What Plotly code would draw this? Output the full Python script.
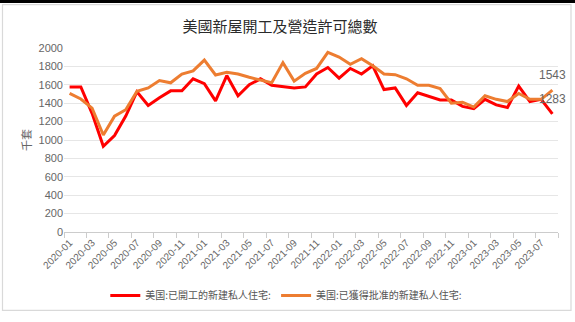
import plotly.graph_objects as go

# Monthly series, 2020-01 .. 2023-08 (thousand units, SAAR)
months = [f"{y}-{m:02d}" for y in range(2020, 2024) for m in range(1, 13)][:44]

starts = [1577, 1577, 1290, 931, 1048, 1260, 1525, 1376, 1460, 1534, 1534, 1665,
          1612, 1425, 1700, 1481, 1601, 1665, 1594, 1580, 1566, 1577, 1717, 1788,
          1672, 1778, 1717, 1806, 1548, 1566, 1376, 1513, 1471, 1435, 1435, 1365,
          1340, 1442, 1382, 1354, 1587, 1418, 1442, 1283]

permits = [1506, 1446, 1346, 1054, 1259, 1329, 1530, 1566, 1647, 1622, 1717, 1752,
           1869, 1707, 1735, 1717, 1682, 1654, 1622, 1841, 1640, 1725, 1778, 1953,
           1901, 1823, 1884, 1806, 1717, 1710, 1665, 1594, 1594, 1559, 1400, 1410,
           1358, 1481, 1442, 1418, 1506, 1442, 1442, 1543]

name_starts = "美国:已開工的新建私人住宅:"
name_permits = "美国:已獲得批准的新建私人住宅:"
title_text = "美國新屋開工及營造許可總數"

RED = "#FF0000"
ORANGE = "#ED7D31"
GRID = "#E6E6E6"
TXT = "#666666"

idx = list(range(len(months)))

fig = go.Figure()
fig.add_trace(go.Scatter(x=idx, y=starts, mode="lines", name=name_starts,
                         line=dict(color=RED, width=3)))
fig.add_trace(go.Scatter(x=idx, y=permits, mode="lines", name=name_permits,
                         line=dict(color=ORANGE, width=3)))

# value labels at the last point of each series
for series in (permits, starts):
    fig.add_annotation(x=idx[-1], y=series[-1], text=str(series[-1]),
                       showarrow=False, yshift=15,
                       font=dict(family="Liberation Sans", size=12, color=TXT))

tick_pos = idx[::2]
tick_txt = months[::2]
boundaries = [i - 0.5 for i in idx[::2]] + [idx[-1] + 0.5]

fig.update_layout(
    width=575, height=322,
    margin=dict(l=64, r=17, t=48, b=85),
    paper_bgcolor="white", plot_bgcolor="white",
    showlegend=True,
    title=dict(text=title_text, x=0.487, xref="container", xanchor="center",
               y=0.916, yref="container", yanchor="middle",
               font=dict(family="Noto Sans CJK TC", size=15, color="#2B2B2B")),
    legend=dict(orientation="h", x=0.45, xanchor="center", y=-0.345, yanchor="middle",
                font=dict(family="Noto Sans CJK SC", size=10, color="#555555"),
                itemwidth=30, bgcolor="rgba(0,0,0,0)"),
    xaxis=dict(range=[-0.5, idx[-1] + 0.5], tickmode="array", tickvals=tick_pos,
               ticktext=tick_txt, tickangle=-45, ticks="", showgrid=False,
               showline=True, linecolor="#CCCCCC", linewidth=1, zeroline=False,
               tickfont=dict(family="Liberation Sans", size=10, color=TXT),
               minor=dict(tickmode="array", tickvals=boundaries, ticks="outside",
                          ticklen=5, tickcolor="#CCCCCC", showgrid=False),
               automargin=False),
    yaxis=dict(range=[0, 2000], dtick=200, showgrid=True, gridcolor=GRID,
               zeroline=False, showline=False, ticks="",
               tickfont=dict(family="Liberation Sans", size=11, color=TXT),
               title=dict(text="千套", standoff=4,
                          font=dict(family="Noto Sans CJK SC", size=11, color=TXT)),
               automargin=False),
)

# outer frame and top edge strip
fig.add_shape(type="rect", xref="paper", yref="paper",
              x0=(2.5 - 64) / 494, x1=(571 - 64) / 494,
              y0=(237 - 317.5) / 189, y1=(237 - 3.5) / 189,
              line=dict(color="#D9D9D9", width=1.2), fillcolor="rgba(0,0,0,0)", layer="below")
fig.add_shape(type="rect", xref="paper", yref="paper",
              x0=-0.2, x1=1.2, y0=(237 - 1.8) / 189, y1=1.3,
              line=dict(width=0), fillcolor="black", layer="above")

fig.write_html("out.html")
